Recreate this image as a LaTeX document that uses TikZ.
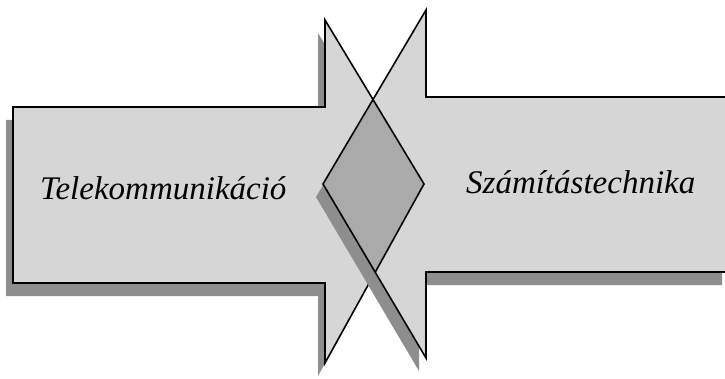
\documentclass[tikz,border=0pt]{standalone}
\usepackage{fontspec}
\setmainfont{Liberation Serif}
\definecolor{arrowgray}{HTML}{D6D6D6}
\definecolor{diamondgray}{HTML}{AAAAAA}
\definecolor{shadowgray}{HTML}{8E8E8E}
\newcommand\LAshape{(13,107) -- (325,107) -- (325,20) -- (424,184) -- (325,363) -- (325,283) -- (13,283) -- cycle}
\newcommand\RAshape{(729,97) -- (426,97) -- (426,10) -- (323,184) -- (426,358) -- (426,272) -- (729,272) -- cycle}
\tikzset{
  arrowfill/.style={fill=arrowgray},
  diamondfill/.style={fill=diamondgray},
  shadowfill/.style={fill=shadowgray, shift={(-7,13)}},
  outline/.style={draw=black, line width=1.6pt, line join=miter},
  lbl/.style={font=\fontsize{33}{36}\selectfont\itshape, inner sep=0pt, anchor=base west}
}
\begin{document}
\begin{tikzpicture}[x=1pt,y=-1pt]
\useasboundingbox[fill=white] (0,0) rectangle (725,379);
% left arrow
\fill[shadowfill] \LAshape;
\fill[arrowfill] \LAshape;
\draw[outline] \LAshape;
% right arrow
\fill[shadowfill] \RAshape;
\fill[arrowfill] \RAshape;
% overlap
\begin{scope}
  \clip \RAshape;
  \fill[diamondfill] \LAshape;
  \draw[outline] \LAshape;
\end{scope}
\draw[outline] \RAshape;
\node[lbl] (tele) at (40,200) {Telekommunikáció};
\node[lbl] (szam) at (466,194) {Számítástechnika};
\end{tikzpicture}
\end{document}
